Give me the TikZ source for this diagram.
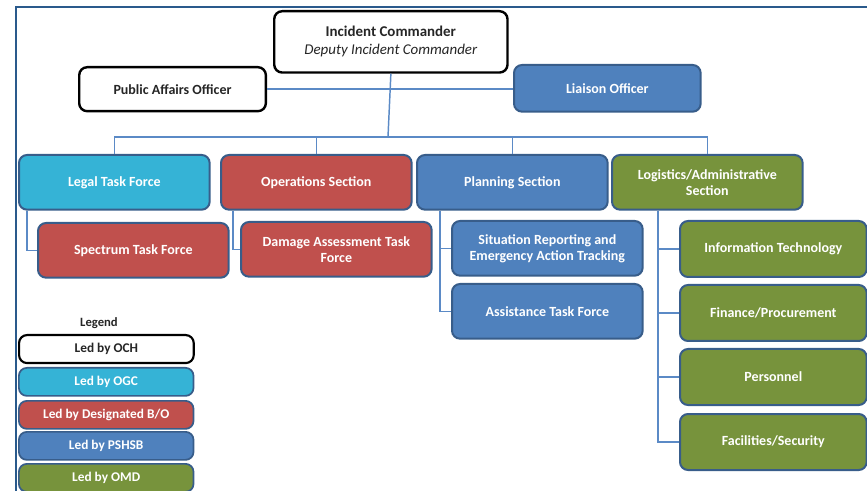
\documentclass[tikz,border=0pt]{standalone}
\usepackage{fontspec}
\setmainfont{Carlito}
\usepackage{tikz}
\usetikzlibrary{calc}

\definecolor{ogcblue}{HTML}{35B3D6}
\definecolor{bored}{HTML}{C0504D}
\definecolor{pshsbblue}{HTML}{4F81BD}
\definecolor{omdgreen}{HTML}{77933C}
\definecolor{edgeblue}{HTML}{385D8A}
\definecolor{framecol}{HTML}{2A5A8C}
\definecolor{linkblue}{HTML}{5B8AC6}

\tikzset{
  orgbox/.style={draw=edgeblue, line width=1.5pt, rounded corners=6pt, anchor=north west,
    align=center, text=white, font=\fontsize{10.5}{12}\selectfont\bfseries, inner sep=2pt},
  ochbox/.style={orgbox, draw=black, line width=1.8pt, fill=white, text=black!85},
  secbox/.style={orgbox, minimum width=143pt, minimum height=41pt},
  subbox/.style={orgbox, minimum width=143pt, minimum height=41pt},
  logbox/.style={orgbox, minimum width=140pt, minimum height=42pt},
  legbox/.style={orgbox, minimum width=131pt, minimum height=21pt, line width=1.3pt,
    font=\fontsize{10}{11}\selectfont\bfseries},
  link/.style={draw=linkblue, line width=1.1pt},
}

\begin{document}
\begin{tikzpicture}[x=0.75pt,y=0.75pt,yscale=-1]
        \useasboundingbox (0,0) rectangle (867,491);

        % frame
        \draw[framecol, line width=1.2pt] (16,491) -- (16,7) -- (867,7);

        % top level
        \node[ochbox, minimum width=175pt, minimum height=46pt, font=\fontsize{11.2}{13.5}\selectfont] (ic) at (273,10)
            {\textbf{Incident Commander}\\\textit{Deputy Incident Commander}};
        \node[ochbox, minimum width=140pt, minimum height=33pt] (pao) at (78,66) {Public Affairs Officer};
        \node[orgbox, fill=pshsbblue, minimum width=140pt, minimum height=35pt] (liaison) at (513,64) {Liaison Officer};

        % sections
        \node[secbox, fill=ogcblue] (legal) at (18,154) {Legal Task Force};
        \node[secbox, fill=bored] (ops) at (220,154) {Operations Section};
        \node[secbox, fill=pshsbblue] (plan) at (416,154) {Planning Section};
        \node[secbox, fill=omdgreen] (logis) at (611,154) {Logistics/Administrative\\Section};

        % task forces
        \node[subbox, fill=bored] (spectrum) at (37,222) {Spectrum Task Force};
        \node[subbox, fill=bored] (damage) at (240,221) {Damage Assessment Task\\Force};
        \node[subbox, fill=pshsbblue] (sitrep) at (451,220) {Situation Reporting and\\Emergency Action Tracking};
        \node[subbox, fill=pshsbblue] (assist) at (451,283) {Assistance Task Force};

        % logistics units
        \node[logbox, fill=omdgreen] (infotech) at (679,220) {Information Technology};
        \node[logbox, fill=omdgreen] (finance) at (679,284) {Finance/Procurement};
        \node[logbox, fill=omdgreen] (personnel) at (679,348) {Personnel};
        \node[logbox, fill=omdgreen] (facilities) at (679,413) {Facilities/Security};

        % legend
        \node[font=\fontsize{9.5}{11}\selectfont\bfseries, text=black!85] (legend) at (99,323) {Legend};
        \node[legbox, draw=black, fill=white, text=black!85, line width=1.6pt] (led1) at (18,334) {Led by OCH};
        \node[legbox, fill=ogcblue] (led2) at (18,367) {Led by OGC};
        \node[legbox, fill=bored] (led3) at (18,400) {Led by Designated B/O};
        \node[legbox, fill=pshsbblue] (led4) at (18,431) {Led by PSHSB};
        \node[legbox, fill=omdgreen] (led5) at (18,463) {Led by OMD};

        % connectors
        \coordinate (bus) at (388,137);
        \draw[link] (pao.east) -- (pao.east -| liaison.west);
        \draw[link] (ic.south) -- (bus);
        \draw[link] (legal.north) |- (bus) -| (logis.north);
        \draw[link] (ops.north) -- (ops.north |- bus);
        \draw[link] (plan.north) -- (plan.north |- bus);
        \draw[link] ($(legal.south west)+(9,0)$) |- (spectrum.west);
        \draw[link] ($(ops.south west)+(13,0)$) |- (damage.west);
        \draw[link] ($(plan.south west)+(24,0)$) |- (sitrep.west);
        \draw[link] ($(plan.south west)+(24,0)$) |- (assist.west);
        \draw[link] ($(logis.south west)+(47,0)$) |- (infotech.west);
        \draw[link] ($(logis.south west)+(47,0)$) |- (finance.west);
        \draw[link] ($(logis.south west)+(47,0)$) |- (personnel.west);
        \draw[link] ($(logis.south west)+(47,0)$) |- (facilities.west);
\end{tikzpicture}
\end{document}
